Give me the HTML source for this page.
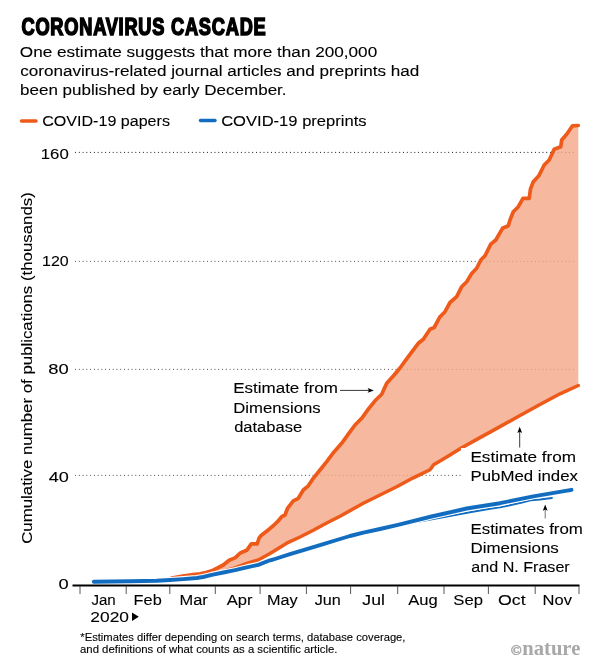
<!DOCTYPE html>
<html lang="en"><head><meta charset="utf-8"><title>Coronavirus cascade</title>
<style>
html,body{margin:0;padding:0;background:#fff}
body{width:600px;height:663px;overflow:hidden}
svg{display:block}
svg text{font-family:"Liberation Sans",Arial,sans-serif;fill:#000;stroke:#000;stroke-width:0.1px}
</style></head><body>
<svg width="600" height="663" viewBox="0 0 600 663">
<rect width="600" height="663" fill="#fff"/>
<g transform="translate(21.5,35.2) scale(0.769,1)"><text x="0" y="0" font-size="23.7" font-weight="bold" style="fill:#000;stroke:#000;stroke-width:1.6px;stroke-linejoin:miter;letter-spacing:1px">CORONAVIRUS CASCADE</text></g>
<text x="19.84" y="56.6" font-size="14.9" textLength="357.35" lengthAdjust="spacingAndGlyphs" >One estimate suggests that more than 200,000</text>
<text x="20.23" y="75.6" font-size="14.9" textLength="399.10" lengthAdjust="spacingAndGlyphs" >coronavirus-related journal articles and preprints had</text>
<text x="20.06" y="94.7" font-size="14.9" textLength="266.50" lengthAdjust="spacingAndGlyphs" >been published by early December.</text>
<line x1="21.5" y1="120.9" x2="36" y2="120.9" stroke="#ee5a1a" stroke-width="3.5" stroke-linecap="round"/>
<text x="42.19" y="126.1" font-size="14.9" textLength="127.77" lengthAdjust="spacingAndGlyphs" >COVID-19 papers</text>
<line x1="200.5" y1="120.4" x2="215" y2="120.4" stroke="#126dc0" stroke-width="3.5" stroke-linecap="round"/>
<text x="221.17" y="126.1" font-size="14.9" textLength="145.41" lengthAdjust="spacingAndGlyphs" >COVID-19 preprints</text>
<g transform="translate(32.3,543) rotate(-90)"><text x="-0.85" y="0" font-size="14.9" textLength="351.64" lengthAdjust="spacingAndGlyphs" >Cumulative number of publications (thousands)</text></g>
<line x1="75.5" y1="152.4" x2="576.5" y2="152.4" stroke="#2a2a2a" stroke-width="1.08" stroke-linecap="round" stroke-dasharray="0.01 3.76"/>
<text x="40.77" y="158.5" font-size="14.9" textLength="28.01" lengthAdjust="spacingAndGlyphs" >160</text>
<line x1="75.5" y1="261.2" x2="576.5" y2="261.2" stroke="#2a2a2a" stroke-width="1.08" stroke-linecap="round" stroke-dasharray="0.01 3.76"/>
<text x="42.13" y="265.8" font-size="14.9" textLength="26.62" lengthAdjust="spacingAndGlyphs" >120</text>
<line x1="75.5" y1="369.3" x2="576.5" y2="369.3" stroke="#2a2a2a" stroke-width="1.08" stroke-linecap="round" stroke-dasharray="0.01 3.76"/>
<text x="48.38" y="373.8" font-size="14.9" textLength="20.43" lengthAdjust="spacingAndGlyphs" >80</text>
<line x1="75.5" y1="475.3" x2="576.5" y2="475.3" stroke="#2a2a2a" stroke-width="1.08" stroke-linecap="round" stroke-dasharray="0.01 3.76"/>
<text x="48.70" y="481.6" font-size="14.9" textLength="20.10" lengthAdjust="spacingAndGlyphs" >40</text>
<text x="58.59" y="588.6" font-size="14.9" textLength="10.19" lengthAdjust="spacingAndGlyphs" >0</text>
<path d="M168.0,579.6 L173.0,577.8 L183.0,576.1 L193.0,574.7 L200.0,573.9 L206.0,572.6 L211.7,570.8 L217.5,568.0 L223.3,565.0 L229.2,560.3 L235.0,557.9 L240.8,552.7 L246.7,550.3 L251.3,543.9 L257.2,543.9 L259.0,538.2 L260.8,535.8 L265.0,532.5 L269.2,529.2 L273.5,525.5 L277.5,521.7 L281.7,516.7 L285.0,515.0 L287.5,508.3 L293.3,500.8 L298.3,498.3 L303.3,490.0 L308.3,485.8 L313.3,478.3 L320.0,470.0 L326.7,461.7 L334.2,451.7 L341.7,443.3 L348.3,434.2 L355.0,425.0 L361.7,418.3 L368.3,409.2 L375.0,400.8 L381.7,394.2 L386.7,383.3 L393.3,376.0 L400.0,368.0 L408.3,356.7 L418.3,343.3 L423.3,339.2 L430.0,329.2 L434.2,327.5 L440.0,316.7 L445.0,311.7 L450.0,302.5 L456.7,296.7 L461.7,286.7 L466.7,281.7 L471.7,273.5 L476.7,268.3 L480.8,260.0 L485.0,255.8 L490.8,244.2 L495.8,240.0 L502.5,228.3 L508.3,225.8 L510.0,220.0 L513.3,211.7 L518.3,206.7 L523.0,198.3 L529.2,198.3 L530.5,189.0 L533.3,181.7 L538.8,175.8 L544.2,165.0 L549.2,160.0 L554.2,149.2 L560.8,146.7 L561.7,140.0 L566.7,134.2 L572.5,125.8 L578.3,125.5 L578.3,385.5 L560.0,393.8 L540.0,404.5 L520.0,415.5 L500.0,426.6 L480.0,437.6 L460.0,448.8 L450.0,454.9 L440.0,461.0 L433.6,464.7 L432.3,466.6 L430.0,469.7 L420.0,474.6 L413.3,477.8 L396.7,486.7 L380.0,495.0 L363.3,503.3 L346.7,512.5 L340.0,516.3 L326.7,523.0 L313.3,530.3 L300.0,537.0 L286.7,543.2 L273.3,551.5 L270.0,553.5 L258.3,560.0 L246.7,563.4 L235.0,568.0 L223.3,571.5 L211.7,574.5 L203.0,577.0 L196.7,578.0 L183.3,579.1 L170.0,580.0 Z" fill="#f4a686" fill-opacity="0.8"/>
<path d="M93.8,581.7 L130.0,581.3 L156.7,580.7 L170.0,580.0 L183.3,579.1 L196.7,578.0 L203.0,577.0 L211.7,574.5 L223.3,571.5 L235.0,568.0 L246.7,563.4 L258.3,560.0 L270.0,553.5 L273.3,551.5 L286.7,543.2 L300.0,537.0 L313.3,530.3 L326.7,523.0 L340.0,516.3 L346.7,512.5 L363.3,503.3 L380.0,495.0 L396.7,486.7 L413.3,477.8 L420.0,474.6 L430.0,469.7 L432.3,466.6 L433.6,464.7 L440.0,461.0 L450.0,454.9 L460.0,448.8 L480.0,437.6 L500.0,426.6 L520.0,415.5 L540.0,404.5 L560.0,393.8 L578.3,385.5" fill="none" stroke="#ee5a1a" stroke-width="3.5" stroke-linejoin="round" stroke-linecap="round"/>
<path d="M93.8,581.7 L130.0,581.3 L156.7,580.7 L168.0,579.6 L173.0,577.8 L183.0,576.1 L193.0,574.7 L200.0,573.9 L206.0,572.6 L211.7,570.8 L217.5,568.0 L223.3,565.0 L229.2,560.3 L235.0,557.9 L240.8,552.7 L246.7,550.3 L251.3,543.9 L257.2,543.9 L259.0,538.2 L260.8,535.8 L265.0,532.5 L269.2,529.2 L273.5,525.5 L277.5,521.7 L281.7,516.7 L285.0,515.0 L287.5,508.3 L293.3,500.8 L298.3,498.3 L303.3,490.0 L308.3,485.8 L313.3,478.3 L320.0,470.0 L326.7,461.7 L334.2,451.7 L341.7,443.3 L348.3,434.2 L355.0,425.0 L361.7,418.3 L368.3,409.2 L375.0,400.8 L381.7,394.2 L386.7,383.3 L393.3,376.0 L400.0,368.0 L408.3,356.7 L418.3,343.3 L423.3,339.2 L430.0,329.2 L434.2,327.5 L440.0,316.7 L445.0,311.7 L450.0,302.5 L456.7,296.7 L461.7,286.7 L466.7,281.7 L471.7,273.5 L476.7,268.3 L480.8,260.0 L485.0,255.8 L490.8,244.2 L495.8,240.0 L502.5,228.3 L508.3,225.8 L510.0,220.0 L513.3,211.7 L518.3,206.7 L523.0,198.3 L529.2,198.3 L530.5,189.0 L533.3,181.7 L538.8,175.8 L544.2,165.0 L549.2,160.0 L554.2,149.2 L560.8,146.7 L561.7,140.0 L566.7,134.2 L572.5,125.8 L578.3,125.5" fill="none" stroke="#ee5a1a" stroke-width="3.7" stroke-linejoin="round" stroke-linecap="round"/>
<rect x="461" y="448" width="122" height="40" fill="#fff"/>
<path d="M408.0,523.3 L425.0,520.6 L440.0,517.9 L470.0,512.3 L490.0,508.7 L500.0,507.4 L512.0,504.8 L522.0,502.5 L530.5,500.3 L540.0,499.5 L552.0,498.0" fill="none" stroke="#fff" stroke-width="3.6" stroke-linejoin="round" stroke-linecap="round"/>
<path d="M408.0,523.3 L425.0,520.6 L440.0,517.9 L470.0,512.3 L490.0,508.7 L500.0,507.4 L512.0,504.8 L522.0,502.5 L530.5,500.3 L540.0,499.5 L552.0,498.0" fill="none" stroke="#126dc0" stroke-width="1.9" stroke-linejoin="round" stroke-linecap="round"/>
<path d="M93.8,581.7 L130.0,581.3 L156.7,580.7 L170.0,580.0 L183.3,579.1 L196.7,578.0 L203.0,577.0 L211.7,574.8 L223.3,572.5 L235.0,570.2 L246.7,567.3 L258.3,564.9 L270.0,560.3 L273.3,559.5 L290.0,554.2 L306.7,549.2 L323.3,544.2 L340.0,539.0 L350.0,536.0 L363.3,532.7 L380.0,529.0 L398.0,524.8 L431.5,516.5 L466.7,508.5 L500.0,503.2 L533.3,496.3 L571.5,489.8" fill="none" stroke="#fff" stroke-width="6" stroke-linejoin="round" stroke-linecap="round"/>
<path d="M93.8,581.7 L130.0,581.3 L156.7,580.7 L170.0,580.0 L183.3,579.1 L196.7,578.0 L203.0,577.0 L211.7,574.8 L223.3,572.5 L235.0,570.2 L246.7,567.3 L258.3,564.9 L270.0,560.3 L273.3,559.5 L290.0,554.2 L306.7,549.2 L323.3,544.2 L340.0,539.0 L350.0,536.0 L363.3,532.7 L380.0,529.0 L398.0,524.8 L431.5,516.5 L466.7,508.5 L500.0,503.2 L533.3,496.3 L571.5,489.8" fill="none" stroke="#126dc0" stroke-width="3.9" stroke-linejoin="round" stroke-linecap="round"/>
<line x1="72.5" y1="585.4" x2="579.5" y2="585.4" stroke="#000" stroke-width="2"/>
<line x1="80.0" y1="586" x2="80.0" y2="594" stroke="#444" stroke-width="0.9"/>
<line x1="126.2" y1="586" x2="126.2" y2="594" stroke="#444" stroke-width="0.9"/>
<line x1="169.8" y1="586" x2="169.8" y2="594" stroke="#444" stroke-width="0.9"/>
<line x1="215.3" y1="586" x2="215.3" y2="594" stroke="#444" stroke-width="0.9"/>
<line x1="260.1" y1="586" x2="260.1" y2="594" stroke="#444" stroke-width="0.9"/>
<line x1="306.4" y1="586" x2="306.4" y2="594" stroke="#444" stroke-width="0.9"/>
<line x1="350.6" y1="586" x2="350.6" y2="594" stroke="#444" stroke-width="0.9"/>
<line x1="397.7" y1="586" x2="397.7" y2="594" stroke="#444" stroke-width="0.9"/>
<line x1="444.0" y1="586" x2="444.0" y2="594" stroke="#444" stroke-width="0.9"/>
<line x1="488.4" y1="586" x2="488.4" y2="594" stroke="#444" stroke-width="0.9"/>
<line x1="535.2" y1="586" x2="535.2" y2="594" stroke="#444" stroke-width="0.9"/>
<line x1="579.0" y1="586" x2="579.0" y2="594" stroke="#444" stroke-width="0.9"/>
<text x="91.40" y="605.3" font-size="14.9" textLength="24.33" lengthAdjust="spacingAndGlyphs" >Jan</text>
<text x="133.63" y="605.3" font-size="14.9" textLength="28.10" lengthAdjust="spacingAndGlyphs" >Feb</text>
<text x="179.57" y="605.3" font-size="14.9" textLength="28.25" lengthAdjust="spacingAndGlyphs" >Mar</text>
<text x="226.70" y="605.3" font-size="14.9" textLength="25.81" lengthAdjust="spacingAndGlyphs" >Apr</text>
<text x="266.94" y="605.3" font-size="14.9" textLength="30.64" lengthAdjust="spacingAndGlyphs" >May</text>
<text x="314.73" y="605.3" font-size="14.9" textLength="26.10" lengthAdjust="spacingAndGlyphs" >Jun</text>
<text x="362.35" y="605.3" font-size="14.9" textLength="22.54" lengthAdjust="spacingAndGlyphs" >Jul</text>
<text x="408.30" y="605.3" font-size="14.9" textLength="29.51" lengthAdjust="spacingAndGlyphs" >Aug</text>
<text x="453.39" y="605.3" font-size="14.9" textLength="29.62" lengthAdjust="spacingAndGlyphs" >Sep</text>
<text x="498.06" y="605.3" font-size="14.9" textLength="27.60" lengthAdjust="spacingAndGlyphs" >Oct</text>
<text x="542.61" y="605.3" font-size="14.9" textLength="29.37" lengthAdjust="spacingAndGlyphs" >Nov</text>
<text x="90.33" y="621.6" font-size="14.9" textLength="38.63" lengthAdjust="spacingAndGlyphs" >2020</text>
<path d="M132,612.6 L138.8,616.8 L132,621 Z" fill="#000"/>
<text x="233.28" y="393.3" font-size="14.9" textLength="104.70" lengthAdjust="spacingAndGlyphs" >Estimate from</text>
<text x="233.30" y="413" font-size="14.9" textLength="87.32" lengthAdjust="spacingAndGlyphs" >Dimensions</text>
<text x="234.15" y="432.3" font-size="14.9" textLength="67.94" lengthAdjust="spacingAndGlyphs" >database</text>
<line x1="340" y1="390.4" x2="369" y2="390.4" stroke="#222" stroke-width="0.9"/><path d="M373.9,390.4 L367.6,388 L369,390.4 L367.6,392.8 Z" fill="#000"/>
<text x="470.46" y="462.4" font-size="14.9" textLength="105.63" lengthAdjust="spacingAndGlyphs" >Estimate from</text>
<text x="470.49" y="481.3" font-size="14.9" textLength="107.44" lengthAdjust="spacingAndGlyphs" >PubMed index</text>
<line x1="519.7" y1="431" x2="519.7" y2="447.5" stroke="#222" stroke-width="0.9"/><path d="M519.7,426.8 L517.3,433.1 L519.7,431.7 L522.1,433.1 Z" fill="#000"/>
<text x="470.48" y="534" font-size="14.9" textLength="112.42" lengthAdjust="spacingAndGlyphs" >Estimates from</text>
<text x="470.48" y="552.8" font-size="14.9" textLength="88.34" lengthAdjust="spacingAndGlyphs" >Dimensions</text>
<text x="471.36" y="571.5" font-size="14.9" textLength="98.34" lengthAdjust="spacingAndGlyphs" >and N. Fraser</text>
<line x1="545.2" y1="509" x2="545.2" y2="518.5" stroke="#666" stroke-width="0.9"/><path d="M545.2,504.5 L542.8,510.8 L545.2,509.4 L547.6,510.8 Z" fill="#000"/>
<text x="80.30" y="640.6" font-size="10.4" textLength="325.19" lengthAdjust="spacingAndGlyphs" >*Estimates differ depending on search terms, database coverage,</text>
<text x="80.03" y="653.4" font-size="10.4" textLength="257.46" lengthAdjust="spacingAndGlyphs" >and definitions of what counts as a scientific article.</text>
<text x="510.8" y="654.6" font-size="14.5" font-weight="bold" style="font-family:'Liberation Serif',serif;fill:#a8a8a8;stroke:#a8a8a8;stroke-width:0.5px">©</text>
<text x="522.3" y="654.6" font-size="21" font-weight="bold" textLength="58" lengthAdjust="spacingAndGlyphs" style="font-family:'Liberation Serif',serif;fill:#a8a8a8;stroke:none">nature</text>
</svg></body></html>
